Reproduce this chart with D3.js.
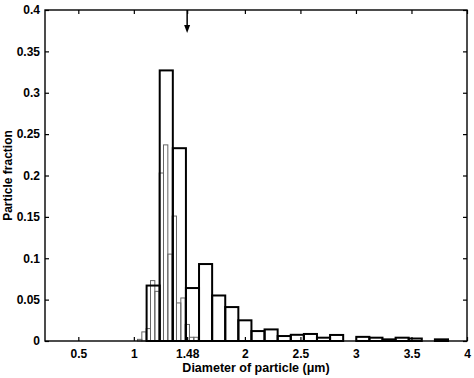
<!DOCTYPE html>
<html>
<head>
<meta charset="utf-8">
<script src="https://cdn.jsdelivr.net/npm/d3@7"></script>
<style>
  body { margin: 0; background: #fff; }
  text { font-family: "Liberation Sans", Arial, sans-serif; font-weight: bold; }
</style>
</head>
<body>
<div class="canvas"></div>
<script>
const width = 474;
const height = 378;
const margin = { top: 10, right: 7, bottom: 37, left: 45 };

// coarse histogram (thick black outline), lower bin edges
const coarseEdges = [1.115, 1.233, 1.351, 1.469, 1.587, 1.705, 1.823, 1.941, 2.059, 2.177,
  2.295, 2.413, 2.531, 2.649, 2.767, 2.885, 3.003, 3.121, 3.239, 3.357, 3.475, 3.593, 3.711];
const coarseWidth = 0.118;
const coarseValues = [0.067, 0.327, 0.233, 0.064, 0.093, 0.055, 0.041, 0.025, 0.012, 0.014,
  0.006, 0.0075, 0.0085, 0.004, 0.0073, 0, 0.005, 0.004, 0.002, 0.004, 0.003, 0, 0.002];

// fine histogram (thin outline), lower bin edges
const fineEdges = [1.033, 1.072, 1.111, 1.150, 1.189, 1.228, 1.267, 1.306, 1.345, 1.384,
  1.423, 1.462, 1.501, 1.540];
const fineWidth = 0.039;
const fineValues = [0.002, 0.011, 0.015, 0.073, 0.06, 0.203, 0.237, 0.105, 0.151, 0.046,
  0.052, 0.020, 0.0045, 0.0045];

const xTicks = [0.5, 1, 1.48, 2, 2.5, 3, 3.5, 4];
const yTicks = [0, 0.05, 0.1, 0.15, 0.2, 0.25, 0.3, 0.35, 0.4];
const markerX = 1.48;

const coarse = coarseEdges.map((e, i) => ({ x0: e, x1: e + coarseWidth, v: coarseValues[i] }));
const fine = fineEdges.map((e, i) => ({ x0: e, x1: e + fineWidth, v: fineValues[i] }));

const xScale = d3.scaleLinear().domain([0.2, 4]).range([margin.left, width - margin.right]);
const yScale = d3.scaleLinear().domain([0, 0.4]).range([height - margin.bottom, margin.top]);

const svg = d3.select(".canvas").append("svg")
  .attr("width", width)
  .attr("height", height);

// Bars
svg.append("g").selectAll("rect")
  .data(fine.filter(d => d.v > 0))
  .enter().append("rect")
  .attr("x", d => xScale(d.x0))
  .attr("y", d => yScale(d.v))
  .attr("width", d => xScale(d.x1) - xScale(d.x0))
  .attr("height", d => yScale(0) - yScale(d.v))
  .attr("fill", "none")
  .attr("stroke", "#666")
  .attr("stroke-width", 1);

svg.append("g").selectAll("rect")
  .data(coarse.filter(d => d.v > 0))
  .enter().append("rect")
  .attr("x", d => xScale(d.x0))
  .attr("y", d => yScale(d.v))
  .attr("width", d => xScale(d.x1) - xScale(d.x0))
  .attr("height", d => yScale(0) - yScale(d.v))
  .attr("fill", "none")
  .attr("stroke", "#000")
  .attr("stroke-width", 2);

// Axes (ticks inside, mirrored on all four sides)
const plotB = height - margin.bottom;
const plotR = width - margin.right;

svg.append("g")
  .attr("transform", `translate(0,${plotB})`)
  .call(d3.axisBottom(xScale).tickValues(xTicks).tickSize(-4).tickPadding(8)
    .tickFormat(d => String(d)));
svg.append("g")
  .attr("transform", `translate(0,${margin.top})`)
  .call(d3.axisTop(xScale).tickValues(xTicks).tickSize(-4).tickFormat(""));
svg.append("g")
  .attr("transform", `translate(${margin.left},0)`)
  .call(d3.axisLeft(yScale).tickValues(yTicks).tickSize(-4).tickPadding(5)
    .tickFormat(d => String(d)));
svg.append("g")
  .attr("transform", `translate(${plotR},0)`)
  .call(d3.axisRight(yScale).tickValues(yTicks).tickSize(-4).tickFormat(""));

svg.selectAll(".domain").remove();
svg.selectAll(".tick line").attr("stroke", "#000").attr("stroke-width", 1.2);
svg.selectAll(".tick text").attr("font-size", 12).attr("fill", "#000")
  .style("font-family", "Liberation Sans, Arial, sans-serif").style("font-weight", "bold");

svg.append("rect")
  .attr("x", margin.left)
  .attr("y", margin.top)
  .attr("width", plotR - margin.left)
  .attr("height", plotB - margin.top)
  .attr("fill", "none")
  .attr("stroke", "#000")
  .attr("stroke-width", 1.4);

// Arrow marking 1.48
const ax = xScale(markerX);
svg.append("line")
  .attr("x1", ax).attr("x2", ax)
  .attr("y1", margin.top).attr("y2", margin.top + 16)
  .attr("stroke", "#000").attr("stroke-width", 1.5);
svg.append("path")
  .attr("d", `M${ax - 3},${margin.top + 15} L${ax + 3},${margin.top + 15} L${ax},${margin.top + 23} Z`)
  .attr("fill", "#000");

// Labels
svg.append("text")
  .attr("x", (margin.left + plotR) / 2)
  .attr("y", 372)
  .attr("text-anchor", "middle")
  .attr("font-size", 12.5)
  .text("Diameter of particle (\u03bcm)");

svg.append("text")
  .attr("transform", `translate(12,${(margin.top + plotB) / 2}) rotate(-90)`)
  .attr("text-anchor", "middle")
  .attr("font-size", 12)
  .text("Particle fraction");
</script>
</body>
</html>
